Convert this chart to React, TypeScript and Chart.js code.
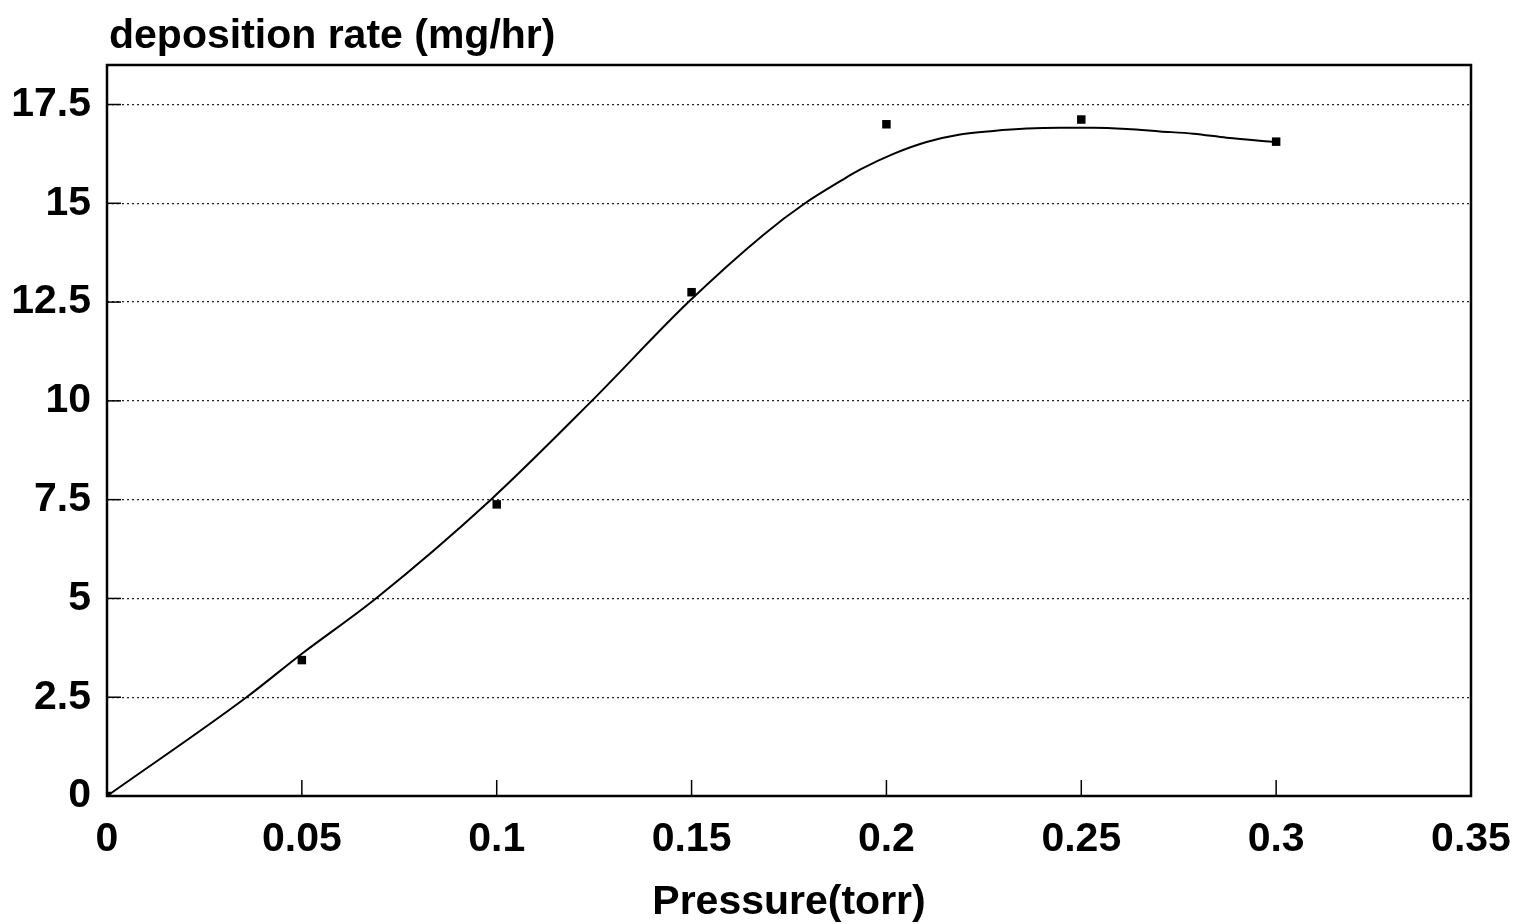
import React, { useEffect, useRef } from "react";
import { Chart, registerables } from "chart.js";

Chart.register(...registerables);

const measuredPressure = [0, 0.05, 0.1, 0.15, 0.2, 0.25, 0.3];
const measuredRate = [0, 3.44, 7.38, 12.75, 17.0, 17.12, 16.56];

const fitPressure = [0, 0.0358, 0.05, 0.069, 0.0985, 0.1244, 0.1492, 0.1684, 0.1791, 0.1885, 0.1932, 0.2018, 0.2103, 0.2189, 0.2274, 0.236, 0.2445, 0.2531, 0.2617, 0.2702, 0.2788, 0.2873, 0.3];
const fitRate = [0, 2.5, 3.6, 5, 7.5, 10, 12.5, 14.2, 15, 15.58, 15.85, 16.25, 16.55, 16.74, 16.83, 16.89, 16.91, 16.91, 16.88, 16.82, 16.76, 16.66, 16.55];

const xTickValues = [0, 0.05, 0.1, 0.15, 0.2, 0.25, 0.3, 0.35];
const xTickLabels = ["0", "0.05", "0.1", "0.15", "0.2", "0.25", "0.3", "0.35"];
const yTickValues = [0, 2.5, 5, 7.5, 10, 12.5, 15, 17.5];
const yTickLabels = ["0", "2.5", "5", "7.5", "10", "12.5", "15", "17.5"];

const yAxisTitle = "deposition rate (mg/hr)";
const xAxisTitle = "Pressure(torr)";

const FONT = "'Liberation Sans', Arial, Helvetica, sans-serif";

const framePlugin = {
  id: "frame",
  afterDraw(chart: any) {
    const { ctx, chartArea } = chart;
    const { left, right, top, bottom } = chartArea;
    ctx.save();
    ctx.strokeStyle = "#000";
    ctx.lineWidth = 1.5;
    const ys = chart.scales.y;
    ys.ticks.forEach((t: any) => {
      const py = ys.getPixelForValue(t.value);
      ctx.beginPath();
      ctx.moveTo(left, py);
      ctx.lineTo(left + 14, py);
      ctx.stroke();
    });
    const xs = chart.scales.x;
    xs.ticks.forEach((t: any) => {
      const px = xs.getPixelForValue(t.value);
      ctx.beginPath();
      ctx.moveTo(px, bottom);
      ctx.lineTo(px, bottom - 16);
      ctx.stroke();
    });
    ctx.lineWidth = 2.5;
    ctx.strokeRect(left, top, right - left, bottom - top);
    ctx.fillStyle = "#000";
    ctx.font = `bold 41px ${FONT}`;
    ctx.textAlign = "left";
    ctx.textBaseline = "alphabetic";
    ctx.fillText(yAxisTitle, left + 2, 48);
    ctx.restore();
  },
};

export default function App() {
  const ref = useRef<HTMLCanvasElement | null>(null);
  useEffect(() => {
    if (!ref.current) return;
    const chart = new Chart(ref.current, {
      type: "scatter",
      data: {
        datasets: [
          {
            type: "line",
            label: "fit",
            data: fitPressure.map((x, i) => ({ x, y: fitRate[i] })),
            borderColor: "#000",
            borderWidth: 2,
            pointRadius: 0,
            cubicInterpolationMode: "monotone",
            fill: false,
          } as any,
          {
            label: "measured",
            data: measuredPressure.map((x, i) => ({ x, y: measuredRate[i] })),
            backgroundColor: "#000",
            borderColor: "#000",
            pointStyle: "rect",
            pointRadius: 6,
            borderWidth: 0,
          },
        ],
      },
      plugins: [framePlugin],
      options: {
        animation: false,
        responsive: true,
        maintainAspectRatio: false,
        layout: { padding: { top: 65, right: 50, left: 0, bottom: 0 } },
        plugins: {
          legend: { display: false },
          tooltip: { enabled: false },
          title: { display: false },
        },
        scales: {
          x: {
            type: "linear",
            min: 0,
            max: 0.35,
            afterBuildTicks: (scale: any) => {
              scale.ticks = xTickValues.map((value) => ({ value }));
            },
            ticks: {
              callback: (_v: any, i: number) => xTickLabels[i],
              color: "#000",
              font: { family: FONT, size: 41, weight: "bold" },
              padding: 19,
              maxRotation: 0,
              autoSkip: false,
            },
            grid: { display: false, drawTicks: false },
            border: { display: false },
            title: {
              display: true,
              text: xAxisTitle,
              color: "#000",
              font: { family: FONT, size: 41, weight: "bold" },
              padding: { top: 0, bottom: -3 },
            },
            afterFit: (scale: any) => {
              scale.height = 128;
              scale.paddingLeft = 0;
              scale.paddingRight = 0;
            },
          },
          y: {
            type: "linear",
            min: 0,
            max: 18.5,
            afterBuildTicks: (scale: any) => {
              scale.ticks = yTickValues.map((value) => ({ value }));
            },
            ticks: {
              callback: (_v: any, i: number) => yTickLabels[i],
              color: "#000",
              font: { family: FONT, size: 41, weight: "bold" },
              padding: 16,
              autoSkip: false,
            },
            grid: {
              display: true,
              drawTicks: false,
              color: "#222",
              lineWidth: 1.2,
            },
            border: { display: false, dash: [2, 3] },
            afterFit: (scale: any) => {
              scale.width = 107;
              scale.paddingTop = 0;
              scale.paddingBottom = 0;
            },
          },
        },
      },
    } as any);
    return () => chart.destroy();
  }, []);
  return (
    <div style={{ position: "fixed", left: 0, top: 0, width: 1521, height: 924, background: "#fff" }}>
      <canvas ref={ref} />
    </div>
  );
}
